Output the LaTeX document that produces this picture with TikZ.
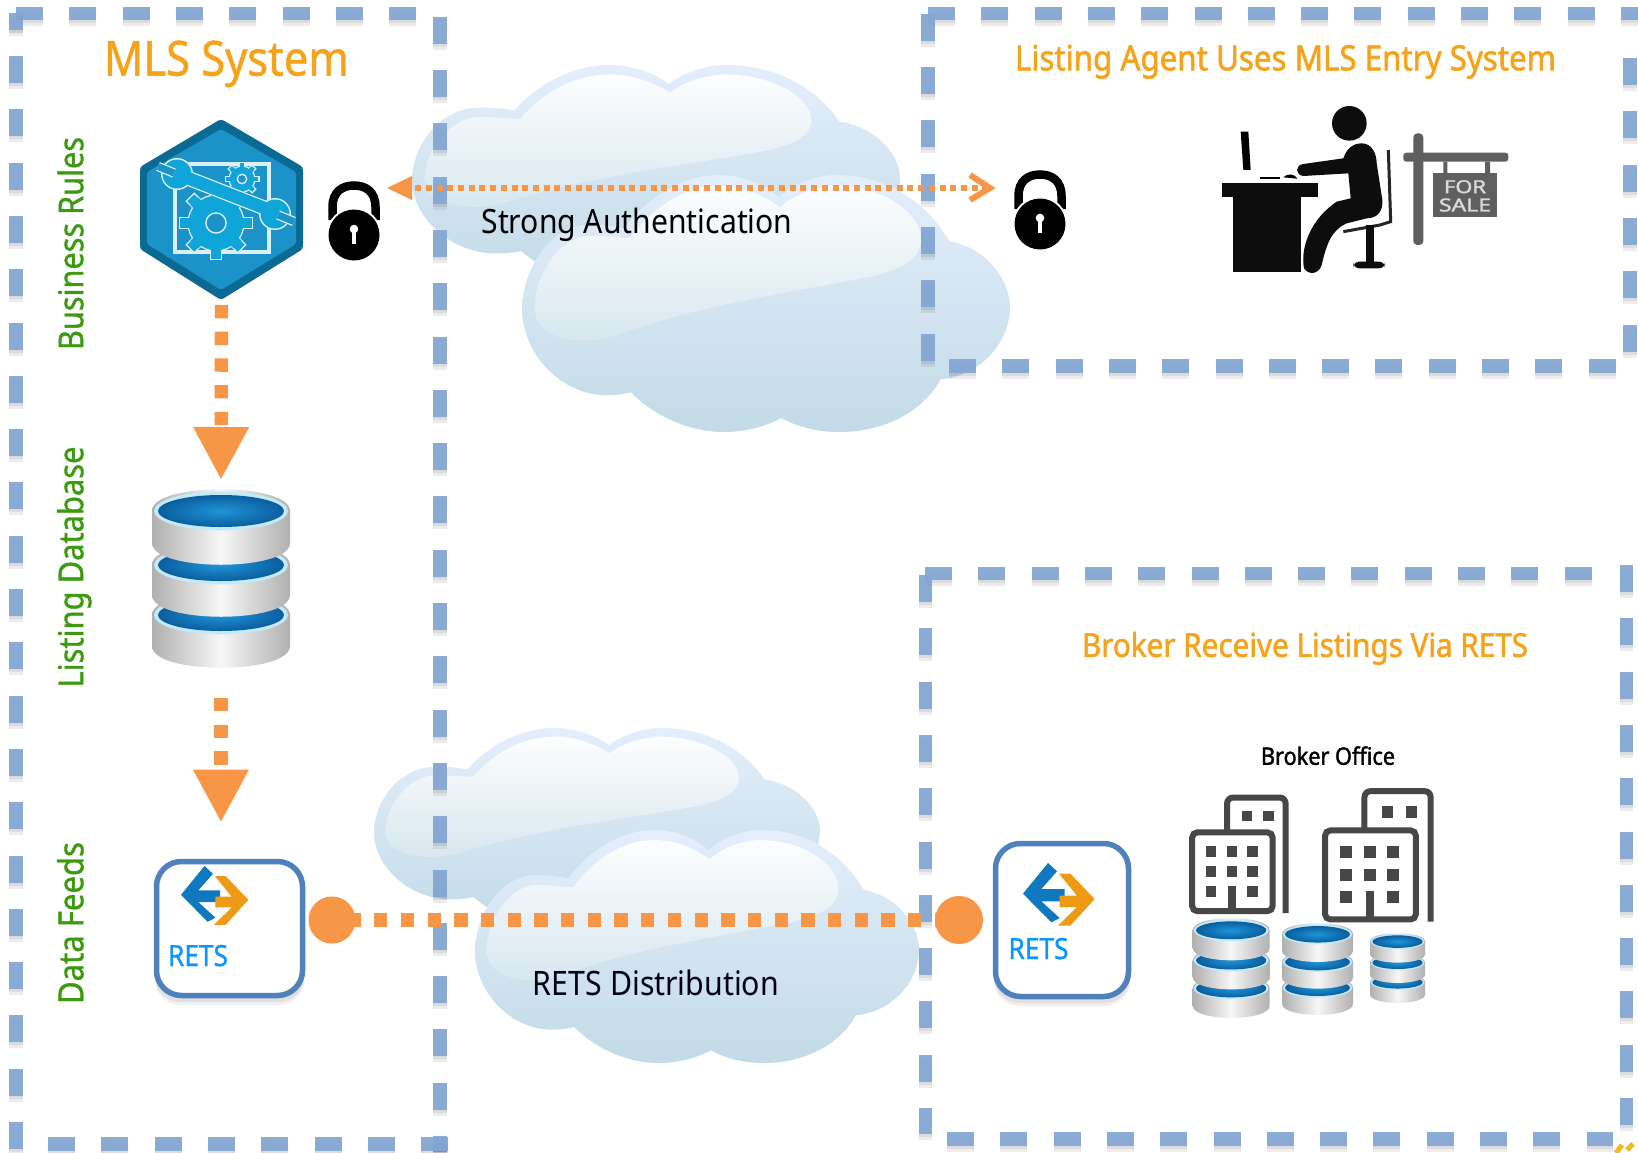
\documentclass[tikz,border=0pt]{standalone}
\usepackage{graphicx}
\usepackage{fontspec}
\setmainfont{Noto Sans}[FakeStretch=0.9]
\newfontfamily\medf{Noto Sans}[FakeStretch=0.9,FakeBold=1.0]
\newfontfamily\boldf{Noto Sans}[FakeStretch=0.9,FakeBold=1.6]
\usetikzlibrary{arrows.meta}
\definecolor{dashblue}{HTML}{83A6D3}
\definecolor{arrowor}{HTML}{F79646}
\definecolor{titleor}{HTML}{F5A31A}
\definecolor{labgreen}{HTML}{3B9A0E}
\definecolor{retsblue}{HTML}{0A95FF}
\definecolor{boxblue}{HTML}{4F81BD}
\definecolor{hexdark}{HTML}{0B6A94}
\definecolor{hexmid}{HTML}{1B93C9}
\definecolor{gearblue}{HTML}{10A5D8}
\definecolor{gearline}{HTML}{DDEFF5}
\definecolor{bldg}{HTML}{474747}
\definecolor{signgray}{HTML}{5F5F5F}
\tikzset{
  bdash/.style={line width=13.5pt,draw=dashblue,opacity=.92,dash pattern=on 27pt off 26.3pt},
  bshade/.style={line width=13.5pt,draw=black,opacity=.07,dash pattern=on 27pt off 26.3pt},
  orsquare/.style={line width=13.3pt,draw=arrowor,dash pattern=on 13.35pt off 13.35pt},
  orfine/.style={line width=6pt,draw=arrowor,dash pattern=on 6pt off 4.7pt},
  label/.style={inner sep=0pt,outer sep=0pt,anchor=center},
  iconbox/.style={inner sep=0pt,outer sep=0pt,minimum width=#1},
  retsbox/.style={draw=boxblue,line width=5.5pt,fill=white,rounded corners=25pt,inner sep=0pt,outer sep=0pt},
  dotnode/.style={circle,fill=arrowor,inner sep=0pt,outer sep=0pt,minimum size=46pt},
}
\newcommand\fitw[2]{\resizebox{#1pt}{!}{\strut #2}}
\newcommand\bluedash[2]{%
  \draw[bshade,yshift=-3pt] (#1)--(#2);
  \draw[bshade,yshift=-6pt] (#1)--(#2);
  \draw[bdash] (#1)--(#2);}
\newcommand\cloudoutline{%
  (0,360) .. controls (5,230) and (75,135) .. (150,135) .. controls (185,135) and (210,140) .. (228,145)
  .. controls (280,60) and (360,0) .. (440,0) .. controls (490,0) and (540,25) .. (573,60)
  .. controls (610,20) and (660,0) .. (700,0) .. controls (810,0) and (900,70) .. (953,180)
  .. controls (1030,195) and (1088,280) .. (1088,360) .. controls (1088,450) and (1025,545) .. (933,555)
  .. controls (890,650) and (800,698) .. (708,698) .. controls (660,698) and (615,685) .. (578,660)
  .. controls (540,685) and (495,698) .. (448,698) .. controls (370,698) and (290,650) .. (243,590)
  .. controls (220,597) and (205,598) .. (188,598) .. controls (90,598) and (0,490) .. (0,360) -- cycle}
\newcommand\cloudshape[4]{%
  \begin{scope}[shift={(#1,#2)},xscale=#3/1088,yscale=#4/698]
    \shade[top color=cloudA,middle color=cloudB,bottom color=cloudC] \cloudoutline;
    \begin{scope}
    \clip
      (28,360) .. controls (30,260) and (90,165) .. (150,165) .. controls (185,165) and (225,170) .. (240,172)
      .. controls (290,90) and (360,30) .. (440,30) .. controls (490,30) and (540,55) .. (575,88)
      .. controls (610,50) and (660,30) .. (700,30) .. controls (800,30) and (890,100) .. (890,175)
      .. controls (890,225) and (850,255) .. (780,275) .. controls (600,320) and (400,350) .. (200,440)
      .. controls (100,470) and (28,430) .. (28,360) -- cycle;
    \shade[top color=white,middle color=cloudB,bottom color=cloudC] (0,0) rectangle (1088,698);
    \end{scope}
  \end{scope}}
\definecolor{cloudA}{HTML}{E4EEFC}
\definecolor{cloudB}{HTML}{D9E8F5}
\definecolor{cloudC}{HTML}{C2DBE7}
\newcommand\gearicon[3]{%
  \begin{scope}[shift={(#1,#2)}]
    \foreach \a in {0,45,...,315}
      \draw[rotate=\a,draw=gearline,line width=1.2pt,fill=gearblue] (-0.2*#3,-1.3*#3) rectangle (0.2*#3,0);
    \fill[gearblue,draw=gearline,line width=1.2pt] (0,0) circle [radius=#3];
    \foreach \a in {0,45,...,315}
      \fill[rotate=\a,gearblue] (-0.19*#3,-1.1*#3) rectangle (0.19*#3,0);
    \draw[gearline,line width=1.4pt,fill=hexmid] (0,0) circle [radius=0.36*#3];
  \end{scope}}
\newcommand\diskpart[2]{%
  \shade[left color=metalA,right color=metalA,middle color=metalB]
    (0,#1) -- (0,#1+#2) .. controls (0,#1+#2+29) and (138,#1+#2+29) .. (138,#1+#2) -- (138,#1)
    .. controls (138,#1-29) and (0,#1-29) .. (0,#1) -- cycle;
  \fill[rimblue] (69,#1) ellipse [x radius=67,y radius=19.5];
  \shade[inner color=blueA,outer color=blueB] (69,#1) ellipse [x radius=63,y radius=16];}
\definecolor{metalA}{HTML}{B0B0B0}
\definecolor{metalB}{HTML}{F7F7F7}
\definecolor{rimblue}{HTML}{C4EAF7}
\definecolor{blueA}{HTML}{1F94D8}
\definecolor{blueB}{HTML}{0A5E9E}
\newcommand\dbicon[4]{%
  \begin{scope}[shift={(#1,#2)},xscale=#3/138,yscale=#4/179]
    \diskpart{126}{31}\diskpart{76}{30}\diskpart{22}{32}
  \end{scope}}
\newcommand\lockicon[2]{%
  \begin{scope}[shift={(#1,#2)}]
    \draw[line width=8.5pt,black] (-21.5,-15) -- (-21.5,-28) .. controls (-21.5,-43) and (-12,-49.5) .. (0,-49.5)
      .. controls (12,-49.5) and (21.5,-43) .. (21.5,-28) -- (21.5,-15);
    \fill[white] (0,0) circle [radius=27.5];
    \fill[black] (0,0) circle [radius=25.5];
    \fill[white] (0,-6) circle [radius=4.3];
    \fill[white] (-2.2,-6) rectangle (2.2,9);
  \end{scope}}
\newcommand\retslogo[3]{%
  \begin{scope}[shift={(#1,#2)},scale=#3/3]
    \fill[retsdeep] (75,0) -- (102,25) -- (55,78) -- (125,78) -- (125,115) -- (55,115) -- (110,165) -- (85,178) -- (0,92) -- cycle;
    \fill[retsor] (108,32) -- (142,32) -- (215,108) -- (142,188) -- (105,188) -- (162,132) -- (110,132) -- (110,98) -- (162,98) -- cycle;
  \end{scope}}
\definecolor{retsdeep}{HTML}{0F78BE}
\definecolor{retsor}{HTML}{EE9A14}
\newcommand\towers[3]{%
  \begin{scope}[shift={(#1,#2)},scale=#3]
    \draw[bldg,line width=6pt,rounded corners=6pt] (37,36) -- (37,2.5) -- (95,2.5) -- (95,117);
    \draw[bldg,line width=6pt,rounded corners=5pt] (2.5,115) -- (2.5,37) -- (82,37) -- (82,115) -- cycle;
    \foreach \wx in {21,41.7,62} \foreach \wy in {55.7,75.7}
      \fill[bldg] (\wx-5.2,\wy-5.2) rectangle (\wx+5.2,\wy+5.2);
    \foreach \wx in {21,62} \fill[bldg] (\wx-5.2,90.5) rectangle (\wx+5.2,101);
    \fill[bldg] (38,90) rectangle (45.5,115);
    \foreach \wx in {57,78} \fill[bldg] (\wx-5,15.7) rectangle (\wx+5,25.7);
  \end{scope}}
\begin{document}
\begin{tikzpicture}[x=1pt,y=-1pt]
\useasboundingbox (0,0) rectangle (1638,1153);
\fill[white] (0,0) rectangle (1638,1153);
% clouds
\cloudshape{412}{65}{488}{220}
\cloudshape{522}{175}{488}{257}
\cloudshape{374}{728}{446}{200}
\cloudshape{475}{830}{444}{233}
% dashed frames
\bluedash{16,13.5}{416,13.5}
\bluedash{440,16.7}{440,1152}
\bluedash{48,1144}{448,1144}
\draw[bshade,yshift=-3pt] (16,13)--(16,29.7);
\bluedash{16,13}{16,29.7}
\bluedash{16,56}{16,1149}
\bluedash{928,13.5}{1638,13.5}
\bluedash{928,13.7}{928,365}
\bluedash{949,366}{1616,366}
\bluedash{1630,58}{1630,352}
\bluedash{925,573.5}{1592,573.5}
\bluedash{1626.5,565}{1626.5,1125}
\bluedash{947,1139}{1613,1139}
\bluedash{925.5,575}{925.5,1134}
\draw[line width=5pt,color={rgb,255:red,246;green,184;blue,31}] (1616,1153) -- (1622,1145) (1627,1150) -- (1633,1144);
% hexagon icon
\node[iconbox=163pt,minimum height=175pt] (rules) at (221.5,209.5) {};
\fill[hexdark,rounded corners=3pt] (221,119) -- (303,167) -- (303,249) -- (221,300) -- (140,249) -- (140,167) -- cycle;
\fill[hexmid,rounded corners=2pt] (221,129) -- (296,172) -- (296,244) -- (221,290) -- (147,244) -- (147,172) -- cycle;
\draw[gearline,line width=4pt] (175,164) rectangle (269,252);
\gearicon{216}{223}{28}
\gearicon{242}{179}{13}
\begin{scope}
  \draw[gearline,line width=15pt] (185,177) -- (272,211);
  \fill[gearline] (177,174) circle [radius=16] (275,214) circle [radius=16];
  \draw[gearblue,line width=12.5pt] (185,177) -- (272,211);
  \fill[gearblue] (177,174) circle [radius=14.5] (275,214) circle [radius=14.5];
  \draw[gearline,line width=9.5pt] (174,173) -- (158,166.5) (278,215) -- (294,221.5);
  \draw[hexmid,line width=7pt] (174,173) -- (158,166.5) (278,215) -- (294,221.5);
\end{scope}
% locks
\node[iconbox=52pt,minimum height=80pt] (lockL) at (354,220) {};
\node[iconbox=52pt,minimum height=80pt] (lockR) at (1040,209.5) {};
\lockicon{354}{235}
\lockicon{1040}{224}
% agent icon
\begin{scope}[shift={(1180,90)},scale=1/3]
  \fill[black] (182,125) -- (205,125) -- (212,240) -- (190,240) -- cycle;
  \fill[black] (240,260) rectangle (300,266);
  \fill[black] (310,262) .. controls (320,250) and (345,250) .. (352,266) -- cycle;
  \fill[black!95] (125,278) rectangle (415,322);
  \fill[black!95] (158,322) rectangle (362,545);
  \fill[black!95] (508,100) circle [radius=52];
  \fill[black!95] (545,160) .. controls (575,160) and (590,190) .. (590,220) -- (607,330) .. controls (610,365) and (590,385) .. (560,385)
     -- (500,400) .. controls (455,420) and (440,460) .. (425,525) .. controls (415,555) and (385,555) .. (372,535)
     .. controls (360,470) and (395,385) .. (470,335) -- (512,325) -- (505,250) -- (370,258)
     .. controls (345,255) and (345,225) .. (370,222) -- (490,205) .. controls (500,175) and (520,160) .. (545,160) -- cycle;
  \draw[black!85,line width=3pt] (625,180) -- (632,395) -- (600,405) -- (490,425);
  \fill[black!95] (558,405) rectangle (582,520);
  \fill[black!95,rounded corners=6pt] (520,515) rectangle (615,535);
  \fill[signgray,rounded corners=4pt] (700,130) rectangle (730,465);
  \fill[signgray,rounded corners=3pt] (670,188) rectangle (985,215);
  \fill[signgray] (790,215) rectangle (802,250) (915,215) rectangle (930,250);
  \fill[signgray] (760,250) rectangle (952,382);
\end{scope}
\node[label,text=black!15] (signa) at (1465,186.7) {\resizebox{42pt}{13pt}{\boldf FOR}};
\node[label,text=black!15] (signb) at (1465,205) {\resizebox{52pt}{13pt}{\boldf SALE}};
% database
\node[iconbox=138pt,minimum height=179pt] (listdb) at (221,578.5) {};
\dbicon{152}{489}{138}{179}
% RETS boxes
\fill[black,opacity=.06,rounded corners=25pt] (155,864) rectangle (304,1002);
\fill[black,opacity=.06,rounded corners=25pt] (155,867) rectangle (304,1005);
\fill[black,opacity=.06,rounded corners=25pt] (994,846) rectangle (1130,1003);
\fill[black,opacity=.06,rounded corners=25pt] (994,849) rectangle (1130,1006);
\node[retsbox,minimum width=146pt,minimum height=134pt] (retsL) at (229.5,928.5) {};
\node[retsbox,minimum width=133pt,minimum height=153pt] (retsR) at (1062,920) {};
\retslogo{181}{866}{0.94}
\retslogo{1023}{863}{1}
\node[label,text=retsblue] (retsLt) at (198,959) {\fitw{60}{\medf RETS}};
\node[label,text=retsblue] (retsRt) at (1038.5,952) {\fitw{60}{\medf RETS}};
% office
\towers{1189.7}{795}{1.01}
\towers{1322.3}{788.3}{1.14}
\dbicon{1192.7}{918}{77}{100}
\dbicon{1282}{923}{71}{92}
\dbicon{1370}{933}{55}{70}
% connectors
\draw[orsquare,-{Triangle[length=53pt,width=52pt]},shorten <=8pt,shorten >=9pt] (rules.south) -- (listdb.north);
\draw[orsquare,-{Triangle[length=53pt,width=52pt]},shorten <=30pt,shorten >=39pt] (listdb.south) -- (listdb.south |- retsL.north);
\node[label] (authA) at (388,188) {};
\node[label] (authB) at (994,188) {};
\draw[orfine,shorten <=16pt,shorten >=6pt] (authA) -- (authB);
\fill[arrowor] (387,188) -- (412,176) -- (412,200) -- cycle;
\draw[arrowor,line width=6pt,line cap=butt,miter limit=10] (970,175) -- (990,188) -- (970,200);
\node[dotnode] (capL) at (332,920) {};
\node[dotnode] (capR) at (959,920) {};
\draw[orsquare,dash phase=11.3pt] (capL.center) -- (capR.center);
\fill[arrowor] (capL.center) circle [radius=23.5];
\fill[arrowor] (capR.center) circle [radius=24];
% text
\node[label,text=titleor] (t1) at (226.5,64) {\fitw{245}{\medf MLS System}};
\node[label,text=titleor] (t2) at (1285.5,62) {\fitw{541}{\boldf Listing Agent Uses MLS Entry System}};
\node[label,text=titleor] (t3) at (1305,649) {\fitw{446}{\boldf Broker Receive Listings Via RETS}};
\node[label,text=black] (t4) at (1328,759) {\fitw{134}{\boldf Broker Office}};
\node[label,text=black] (t5) at (637,225) {\fitw{311}{Strong Authentication}};
\node[label,text=black!90!blue] (t6) at (656,987) {\fitw{246}{RETS Distribution}};
\node[label,text=labgreen,rotate=90] (g1) at (75,243.5) {\fitw{213}{\medf Business Rules}};
\node[label,text=labgreen,rotate=90] (g2) at (75,567) {\fitw{241}{\medf Listing Database}};
\node[label,text=labgreen,rotate=90] (g3) at (75,923) {\fitw{162}{\medf Data Feeds}};
\end{tikzpicture}
\end{document}
